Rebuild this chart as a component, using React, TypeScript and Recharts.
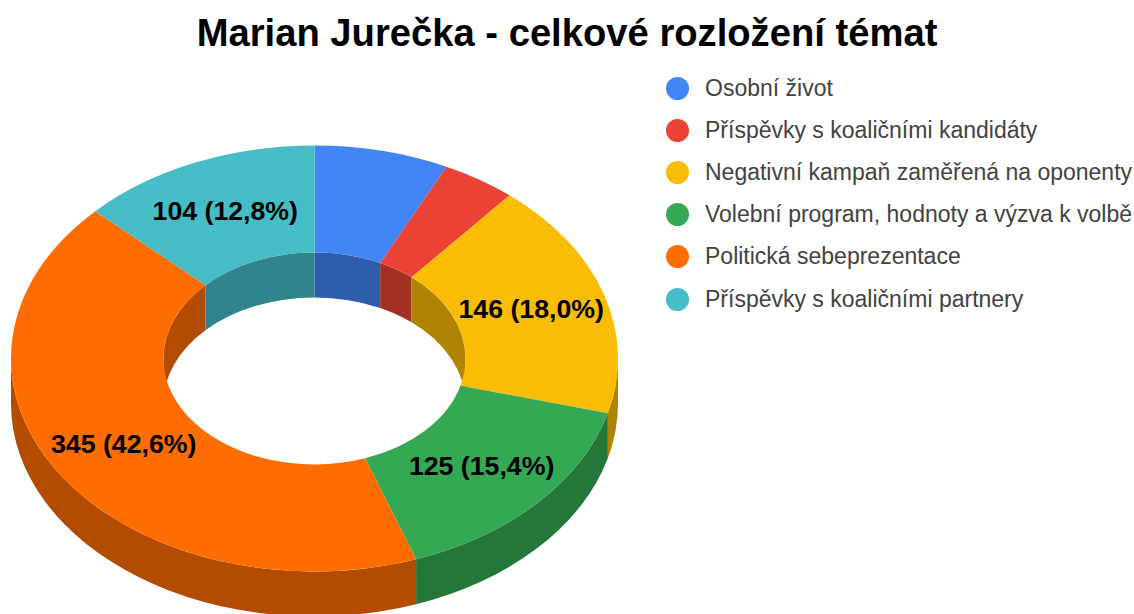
import { PieChart, Pie, Legend } from 'recharts';

const topics = [
  'Osobní život',
  'Příspěvky s koaličními kandidáty',
  'Negativní kampaň zaměřená na oponenty',
  'Volební program, hodnoty a výzva k volbě',
  'Politická sebeprezentace',
  'Příspěvky s koaličními partnery',
];
const counts = [58, 32, 146, 125, 345, 104];
const colors = ['#4285F4', '#EA4335', '#FBBC04', '#34A853', '#FF6D01', '#46BDC6'];

const data = topics.map((name, i) => ({ name, value: counts[i], fill: colors[i] }));

// the donut is a circle squashed vertically with a fixed extrusion
const CX = 314.5;
const CY = 358.5;
const RX = 303.5;
const INNER = 151;
const SQUASH = 0.7018;
const DEPTH = 45;
const FONT = '"Liberation Sans", Arial, sans-serif';

const pt = (r: number, deg: number, dy = 0) => {
  const a = (deg * Math.PI) / 180;
  return `${(CX + r * Math.cos(a)).toFixed(2)} ${(CY - r * SQUASH * Math.sin(a) + dy).toFixed(2)}`;
};

const darken = (hex: string) => {
  const n = parseInt(hex.slice(1), 16);
  const c = [n >> 16, (n >> 8) & 255, n & 255].map(v => Math.round(v * 0.7));
  return `rgb(${c.join(',')})`;
};

const band = (r: number, hi: number, lo: number) => {
  const ry = r * SQUASH;
  const large = hi - lo > 180 ? 1 : 0;
  return (
    `M${pt(r, hi)} A${r} ${ry} 0 ${large} 1 ${pt(r, lo)} ` +
    `L${pt(r, lo, DEPTH)} A${r} ${ry} 0 ${large} 0 ${pt(r, hi, DEPTH)} Z`
  );
};

function TopSector(props: any) {
  const { startAngle: a1, endAngle: a2, fill } = props;
  const large = a1 - a2 > 180 ? 1 : 0;
  const d =
    `M${pt(RX, a1)} A${RX} ${RX * SQUASH} 0 ${large} 1 ${pt(RX, a2)} ` +
    `L${pt(INNER, a2)} A${INNER} ${INNER * SQUASH} 0 ${large} 0 ${pt(INNER, a1)} Z`;
  return <path d={d} fill={fill} />;
}

// front half of the rim
function OuterWall(props: any) {
  const { startAngle: a1, endAngle: a2, fill } = props;
  const hi = Math.min(a1, 0);
  const lo = Math.max(a2, -180);
  if (hi <= lo) return <g />;
  return <path d={band(RX, hi, lo)} fill={darken(fill)} />;
}

// back half of the hole, it wraps through 90 and -270
function InnerWall(props: any) {
  const { startAngle: a1, endAngle: a2, fill } = props;
  const parts: string[] = [];
  if (Math.min(a1, 90) > Math.max(a2, 0)) parts.push(band(INNER, Math.min(a1, 90), Math.max(a2, 0)));
  if (Math.min(a1, -180) > Math.max(a2, -270)) parts.push(band(INNER, Math.min(a1, -180), Math.max(a2, -270)));
  if (!parts.length) return <g />;
  return <path d={parts.join(' ')} fill={darken(fill)} />;
}

function SliceLabel(props: any) {
  const { midAngle, value, percent } = props;
  if (percent < 0.1) return null;
  const r = (RX + INNER) / 2;
  const a = (midAngle * Math.PI) / 180;
  const text = `${value} (${(percent * 100).toFixed(1).replace('.', ',')}%)`;
  return (
    <text
      x={CX + r * Math.cos(a)}
      y={CY - r * SQUASH * Math.sin(a) - 1}
      textAnchor="middle"
      dominantBaseline="central"
      fontFamily={FONT}
      fontWeight="bold"
      fontSize={26.7}
      fill="#000"
    >
      {text}
    </text>
  );
}

// three pies feed the legend, so the rows come straight from the arrays
function LegendRows() {
  return (
    <div style={{ fontFamily: FONT, fontSize: 23, color: '#424242' }}>
      {topics.map((name, i) => (
        <div key={name} style={{ display: 'flex', alignItems: 'center', height: 42.2, whiteSpace: 'nowrap' }}>
          <span style={{ width: 23, height: 23, borderRadius: '50%', background: colors[i], marginRight: 16, flex: 'none' }} />
          {name}
        </div>
      ))}
    </div>
  );
}

const pieProps = {
  data,
  dataKey: 'value',
  nameKey: 'name',
  cx: CX,
  cy: CY,
  innerRadius: INNER,
  outerRadius: RX,
  startAngle: 90,
  endAngle: -270,
  stroke: 'none',
  isAnimationActive: false,
};

export default function App() {
  return (
    <div style={{ position: 'absolute', left: 0, top: 0, width: 1134, height: 614, overflow: 'hidden', background: '#fff' }}>
      <PieChart width={1134} height={614} margin={{ top: 0, right: 0, bottom: 0, left: 0 }}>
        <text x={567} y={32} textAnchor="middle" dominantBaseline="central" fontFamily={FONT} fontWeight="bold" fontSize={38.2} fill="#000">
          Marian Jurečka - celkové rozložení témat
        </text>
        <Pie {...pieProps} legendType="none" shape={OuterWall} />
        <Pie {...pieProps} legendType="none" shape={InnerWall} />
        <Pie {...pieProps} shape={TopSector} label={SliceLabel} labelLine={false} />
        <Legend
          layout="vertical"
          align="right"
          verticalAlign="top"
          wrapperStyle={{ left: 666, top: 67, width: 468 }}
          content={LegendRows}
        />
      </PieChart>
    </div>
  );
}
